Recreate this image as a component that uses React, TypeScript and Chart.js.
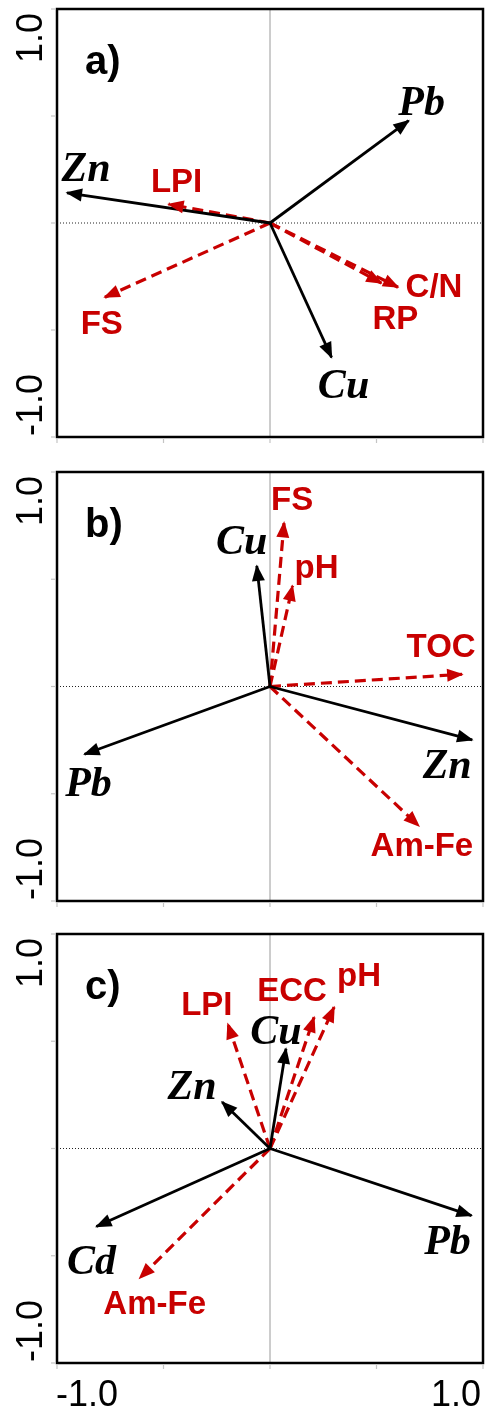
import React, { useEffect, useRef } from 'react';
import { Chart, registerables } from 'chart.js';

Chart.register(...registerables);

const RED = '#c80000';
const BLACK = '#000000';

// Axis ticks and the two labelled ends
const tickValues = [-1, -0.5, 0, 0.5, 1];
const axisLabelMin = '-1.0';
const axisLabelMax = '1.0';

// Panel a
const aMetalNames = ['Pb', 'Zn', 'Cu'];
const aMetalX = [0.651, -0.953, 0.289];
const aMetalY = [0.478, 0.141, -0.628];
const aEnvNames = ['LPI', 'FS', 'C/N', 'RP'];
const aEnvX = [-0.476, -0.776, 0.601, 0.523];
const aEnvY = [0.088, -0.347, -0.3, -0.281];

// Panel b
const bMetalNames = ['Cu', 'Zn', 'Pb'];
const bMetalX = [-0.062, 0.949, -0.871];
const bMetalY = [0.562, -0.249, -0.316];
const bEnvNames = ['FS', 'pH', 'TOC', 'Am-Fe'];
const bEnvX = [0.066, 0.106, 0.902, 0.699];
const bEnvY = [0.765, 0.469, 0.057, -0.65];

// Panel c
const cMetalNames = ['Cu', 'Zn', 'Pb', 'Cd'];
const cMetalX = [0.075, -0.225, 0.946, -0.815];
const cMetalY = [0.465, 0.217, -0.313, -0.364];
const cEnvNames = ['LPI', 'ECC', 'pH', 'Am-Fe'];
const cEnvX = [-0.198, 0.207, 0.301, -0.612];
const cEnvY = [0.581, 0.612, 0.659, -0.605];

// Where each name sits relative to its arrow tip (pixels)
const aMetalLabelOffset = [[13, -20], [19, -26], [12, 27]];
const aEnvLabelOffset = [[8, -24], [-3, 25], [36, -2], [14, 34]];
const bMetalLabelOffset = [[-15, -26], [-25, 24], [4, 28]];
const bEnvLabelOffset = [[8, -24], [24, -20], [-21, -29], [3, 18]];
const cMetalLabelOffset = [[-10, -19], [-30, -17], [-24, 25], [-5, 34]];
const cEnvLabelOffset = [[-21, -21], [-22, -28], [25, -33], [15, 24]];

const METAL_FONT = 'italic bold 42px "Liberation Serif", "Times New Roman", serif';
const ENV_FONT = 'bold 33px "Liberation Sans", Arial, sans-serif';
const LETTER_FONT = 'bold 40px "Liberation Sans", Arial, sans-serif';
const AXIS_FONT = '36px "Liberation Sans", Arial, sans-serif';

type PanelSpec = {
  letter: string;
  metalNames: string[];
  metalX: number[];
  metalY: number[];
  metalOffset: number[][];
  envNames: string[];
  envX: number[];
  envY: number[];
  envOffset: number[][];
  top: number;
  height: number;
  padTop: number;
  padBottom: number;
  showX: boolean;
};

const biplotPlugin = {
  id: 'biplot',
  beforeDatasetsDraw(chart: any) {
    const { ctx, chartArea, scales } = chart;
    const x0 = scales.x.getPixelForValue(0);
    const y0 = scales.y.getPixelForValue(0);
    ctx.save();
    // vertical zero line: thin solid grey
    ctx.strokeStyle = '#9a9a9a';
    ctx.lineWidth = 1;
    ctx.beginPath();
    ctx.moveTo(x0, chartArea.top);
    ctx.lineTo(x0, chartArea.bottom);
    ctx.stroke();
    // horizontal zero line: fine dotted
    ctx.strokeStyle = '#222';
    ctx.setLineDash([1, 2]);
    ctx.beginPath();
    ctx.moveTo(chartArea.left, y0);
    ctx.lineTo(chartArea.right, y0);
    ctx.stroke();
    ctx.restore();
  },
  afterDatasetsDraw(chart: any, _args: any, opts: any) {
    const { ctx, chartArea, scales } = chart;
    ctx.save();

    // arrowheads and names
    chart.data.datasets.forEach((ds: any, i: number) => {
      const meta = chart.getDatasetMeta(i);
      const p0 = meta.data[0];
      const p1 = meta.data[1];
      const ang = Math.atan2(p1.y - p0.y, p1.x - p0.x);
      const len = 15;
      const half = 6.5;
      const bx = p1.x - len * Math.cos(ang);
      const by = p1.y - len * Math.sin(ang);
      ctx.fillStyle = ds.borderColor;
      ctx.beginPath();
      ctx.moveTo(p1.x + 1.5 * Math.cos(ang), p1.y + 1.5 * Math.sin(ang));
      ctx.lineTo(bx - half * Math.sin(ang), by + half * Math.cos(ang));
      ctx.lineTo(bx + half * Math.sin(ang), by - half * Math.cos(ang));
      ctx.closePath();
      ctx.fill();

      const isMetal = ds.kind === 'metal';
      const size = isMetal ? 42 : 33;
      const cap = isMetal ? 0.66 * size : 0.716 * size;
      ctx.font = isMetal ? METAL_FONT : ENV_FONT;
      ctx.fillStyle = isMetal ? BLACK : RED;
      ctx.textAlign = 'center';
      ctx.textBaseline = 'alphabetic';
      ctx.fillText(ds.label, p1.x + ds.labelOffset[0], p1.y + ds.labelOffset[1] + cap / 2);
    });

    // frame
    ctx.strokeStyle = '#000';
    ctx.lineWidth = 2.5;
    ctx.setLineDash([]);
    ctx.strokeRect(chartArea.left, chartArea.top, chartArea.right - chartArea.left, chartArea.bottom - chartArea.top);

    // small outer tick marks
    ctx.strokeStyle = '#c4c4c4';
    ctx.lineWidth = 1.2;
    tickValues.forEach((v) => {
      const px = scales.x.getPixelForValue(v);
      ctx.beginPath();
      ctx.moveTo(px, chartArea.bottom + 1);
      ctx.lineTo(px, chartArea.bottom + 6);
      ctx.stroke();
      const py = scales.y.getPixelForValue(v);
      ctx.beginPath();
      ctx.moveTo(chartArea.left - 1, py);
      ctx.lineTo(chartArea.left - 6, py);
      ctx.stroke();
    });

    // rotated y end labels
    ctx.fillStyle = '#000';
    ctx.font = AXIS_FONT;
    ctx.textBaseline = 'alphabetic';
    const yTop = scales.y.getPixelForValue(1);
    const yBot = scales.y.getPixelForValue(-1);
    ctx.save();
    ctx.translate(42, yTop + 4);
    ctx.rotate(-Math.PI / 2);
    ctx.textAlign = 'right';
    ctx.fillText(axisLabelMax, 0, 0);
    ctx.restore();
    ctx.save();
    ctx.translate(42, yBot - 1);
    ctx.rotate(-Math.PI / 2);
    ctx.textAlign = 'left';
    ctx.fillText(axisLabelMin, 0, 0);
    ctx.restore();

    // x end labels (bottom panel only)
    if (opts.showX) {
      const base = chartArea.bottom + 43;
      ctx.textAlign = 'left';
      ctx.fillText(axisLabelMin, scales.x.getPixelForValue(-1) - 1, base);
      ctx.textAlign = 'right';
      ctx.fillText(axisLabelMax, scales.x.getPixelForValue(1) - 2, base);
    }

    // panel letter
    ctx.font = LETTER_FONT;
    ctx.textAlign = 'left';
    ctx.fillStyle = '#000';
    ctx.fillText(opts.letter, chartArea.left + 28, chartArea.top + 65);

    ctx.restore();
  },
};

function buildDatasets(p: PanelSpec) {
  const metal = p.metalNames.map((name, i) => ({
    type: 'line' as const,
    label: name,
    kind: 'metal',
    labelOffset: p.metalOffset[i],
    data: [{ x: 0, y: 0 }, { x: p.metalX[i], y: p.metalY[i] }],
    borderColor: BLACK,
    borderWidth: 2.8,
    pointRadius: 0,
    showLine: true,
    fill: false,
  }));
  const env = p.envNames.map((name, i) => ({
    type: 'line' as const,
    label: name,
    kind: 'env',
    labelOffset: p.envOffset[i],
    data: [{ x: 0, y: 0 }, { x: p.envX[i], y: p.envY[i] }],
    borderColor: RED,
    borderWidth: 3.2,
    borderDash: [11, 6],
    pointRadius: 0,
    showLine: true,
    fill: false,
  }));
  return [...metal, ...env];
}

function Panel({ spec }: { spec: PanelSpec }) {
  const ref = useRef<HTMLCanvasElement | null>(null);
  useEffect(() => {
    if (!ref.current) return;
    const chart = new Chart(ref.current, {
      type: 'scatter',
      data: { datasets: buildDatasets(spec) as any },
      options: {
        animation: false,
        responsive: false,
        devicePixelRatio: 1,
        layout: { padding: { left: 57, right: 5, top: spec.padTop, bottom: spec.padBottom } },
        scales: {
          x: { type: 'linear', min: -1, max: 1, display: false },
          y: { type: 'linear', min: -1, max: 1, display: false },
        },
        plugins: {
          legend: { display: false },
          tooltip: { enabled: false },
          biplot: { letter: spec.letter, showX: spec.showX },
        } as any,
      },
      plugins: [biplotPlugin],
    });
    return () => chart.destroy();
  }, [spec]);
  return (
    <canvas
      ref={ref}
      width={488}
      height={spec.height}
      style={{ position: 'absolute', left: 0, top: spec.top, width: 488, height: spec.height, display: 'block' }}
    />
  );
}

const panels: PanelSpec[] = [
  {
    letter: 'a)', metalNames: aMetalNames, metalX: aMetalX, metalY: aMetalY, metalOffset: aMetalLabelOffset,
    envNames: aEnvNames, envX: aEnvX, envY: aEnvY, envOffset: aEnvLabelOffset,
    top: 0, height: 465, padTop: 9, padBottom: 28, showX: false,
  },
  {
    letter: 'b)', metalNames: bMetalNames, metalX: bMetalX, metalY: bMetalY, metalOffset: bMetalLabelOffset,
    envNames: bEnvNames, envX: bEnvX, envY: bEnvY, envOffset: bEnvLabelOffset,
    top: 465, height: 465, padTop: 7, padBottom: 29, showX: false,
  },
  {
    letter: 'c)', metalNames: cMetalNames, metalX: cMetalX, metalY: cMetalY, metalOffset: cMetalLabelOffset,
    envNames: cEnvNames, envX: cEnvX, envY: cEnvY, envOffset: cEnvLabelOffset,
    top: 930, height: 479, padTop: 4, padBottom: 46, showX: true,
  },
];

export default function App() {
  return (
    <div style={{ position: 'absolute', left: 0, top: 0, width: 488, height: 1409, background: '#fff' }}>
      {panels.map((p) => (
        <Panel key={p.letter} spec={p} />
      ))}
    </div>
  );
}
